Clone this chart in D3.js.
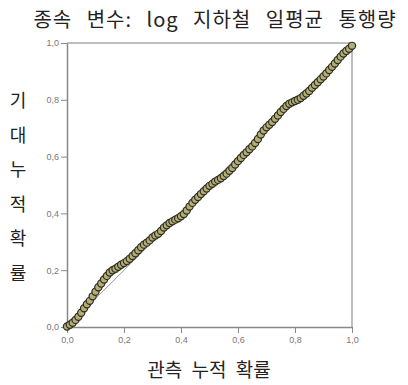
<!DOCTYPE html>
<html>
<head>
<meta charset="utf-8">
<script src="https://cdn.jsdelivr.net/npm/d3@7"></script>
<style>
  body { margin: 0; background: #fff; }
  svg { display: block; }
</style>
</head>
<body>
<div id="chart"></div>
<script>
// observed cumulative probability (x) vs expected cumulative probability (y)
const observed = [
  0.00, 0.01, 0.02, 0.03, 0.04, 0.05, 0.06, 0.07, 0.08, 0.09,
  0.10, 0.11, 0.12, 0.13, 0.14, 0.15, 0.16, 0.17, 0.18, 0.19,
  0.20, 0.21, 0.22, 0.23, 0.24, 0.25, 0.26, 0.27, 0.28, 0.29,
  0.30, 0.31, 0.32, 0.33, 0.34, 0.35, 0.36, 0.37, 0.38, 0.39,
  0.40, 0.41, 0.42, 0.43, 0.44, 0.45, 0.46, 0.47, 0.48, 0.49,
  0.50, 0.51, 0.52, 0.53, 0.54, 0.55, 0.56, 0.57, 0.58, 0.59,
  0.60, 0.61, 0.62, 0.63, 0.64, 0.65, 0.66, 0.67, 0.68, 0.69,
  0.70, 0.71, 0.72, 0.73, 0.74, 0.75, 0.76, 0.77, 0.78, 0.79,
  0.80, 0.81, 0.82, 0.83, 0.84, 0.85, 0.86, 0.87, 0.88, 0.89,
  0.90, 0.91, 0.92, 0.93, 0.94, 0.95, 0.96, 0.97, 0.98, 0.99, 1.00
];
const expected = [
  0.002, 0.008, 0.015, 0.025, 0.036, 0.050, 0.066, 0.080, 0.092, 0.108,
  0.124, 0.140, 0.153, 0.167, 0.180, 0.192, 0.200, 0.205, 0.212, 0.219,
  0.225, 0.232, 0.240, 0.250, 0.260, 0.270, 0.281, 0.290, 0.297, 0.305,
  0.315, 0.322, 0.328, 0.338, 0.350, 0.358, 0.366, 0.372, 0.378, 0.383,
  0.390, 0.398, 0.410, 0.424, 0.437, 0.448, 0.458, 0.468, 0.478, 0.488,
  0.497, 0.504, 0.512, 0.518, 0.524, 0.532, 0.540, 0.550, 0.560, 0.572,
  0.584, 0.595, 0.606, 0.615, 0.626, 0.636, 0.648, 0.662, 0.678, 0.692,
  0.703, 0.712, 0.722, 0.733, 0.745, 0.757, 0.768, 0.778, 0.786, 0.791,
  0.796, 0.800, 0.806, 0.814, 0.822, 0.831, 0.842, 0.852, 0.862, 0.872,
  0.882, 0.893, 0.905, 0.916, 0.928, 0.940, 0.952, 0.963, 0.972, 0.980, 0.990
];
const ticks = [0, 0.2, 0.4, 0.6, 0.8, 1.0];
const title = '종속 변수: log 지하철 일평균 통행량';
const xTitle = '관측 누적 확률';
const yTitle = ['기', '대', '누', '적', '확', '률'];

const W = 408, H = 385;
const mLeft = 67, mRight = 352, mTop = 43, mBottom = 327;

const svg = d3.select('#chart').append('svg')
  .attr('width', W)
  .attr('height', H);

const x = d3.scaleLinear().domain([0, 1]).range([mLeft, mRight]);
const y = d3.scaleLinear().domain([0, 1]).range([mBottom, mTop]);
const fmt = d => d3.format('.1f')(d).replace('.', ',');

// frame (top / right)
svg.append('path')
  .attr('d', `M${mLeft},${mTop}H${mRight}V${mBottom}`)
  .attr('fill', 'none')
  .attr('stroke', '#aaa')
  .attr('stroke-width', 1.5);

const xAxis = svg.append('g')
  .attr('transform', `translate(0,${mBottom})`)
  .call(d3.axisBottom(x).tickValues(ticks).tickFormat(fmt).tickSize(6).tickSizeOuter(0));
const yAxis = svg.append('g')
  .attr('transform', `translate(${mLeft},0)`)
  .call(d3.axisLeft(y).tickValues(ticks).tickFormat(fmt).tickSize(6).tickSizeOuter(0));

[xAxis, yAxis].forEach(g => {
  g.select('.domain').attr('stroke', '#888').attr('stroke-width', 1.5);
  g.selectAll('.tick line').attr('stroke', '#888');
  g.selectAll('.tick text')
    .attr('fill', '#777')
    .attr('font-family', '"Liberation Sans", Arial, sans-serif')
    .attr('font-size', 9);
});
yAxis.selectAll('.tick text').attr('x', -8);
xAxis.selectAll('.tick text').attr('y', 10);

// reference line
svg.append('line')
  .attr('x1', x(0)).attr('y1', y(0))
  .attr('x2', x(1)).attr('y2', y(1))
  .attr('stroke', '#999')
  .attr('stroke-width', 1);

// points
svg.append('g').selectAll('circle')
  .data(observed.map((d, i) => [d, expected[i]]))
  .enter()
  .append('circle')
  .attr('cx', d => x(d[0]))
  .attr('cy', d => y(d[1]))
  .attr('r', 3.6)
  .attr('fill', '#b3ad77')
  .attr('stroke', '#2e2e22')
  .attr('stroke-width', 1.2);

// titles
const kfont = '"Noto Sans CJK KR", sans-serif';
svg.append('text')
  .attr('x', 215).attr('y', 27)
  .attr('text-anchor', 'middle')
  .attr('font-family', kfont)
  .attr('font-size', 20)
  .attr('fill', '#222')
  .attr('letter-spacing', 1)
  .attr('word-spacing', 9)
  .text(title);

svg.append('text')
  .attr('x', 209).attr('y', 377)
  .attr('text-anchor', 'middle')
  .attr('font-family', kfont)
  .attr('font-size', 19)
  .attr('fill', '#222')
  .attr('word-spacing', 5)
  .text(xTitle);

svg.append('g').selectAll('text')
  .data(yTitle)
  .enter()
  .append('text')
  .attr('x', 18)
  .attr('y', (d, i) => 107 + i * 34.5)
  .attr('text-anchor', 'middle')
  .attr('font-family', kfont)
  .attr('font-size', 18)
  .attr('fill', '#222')
  .text(d => d);
</script>
</body>
</html>
